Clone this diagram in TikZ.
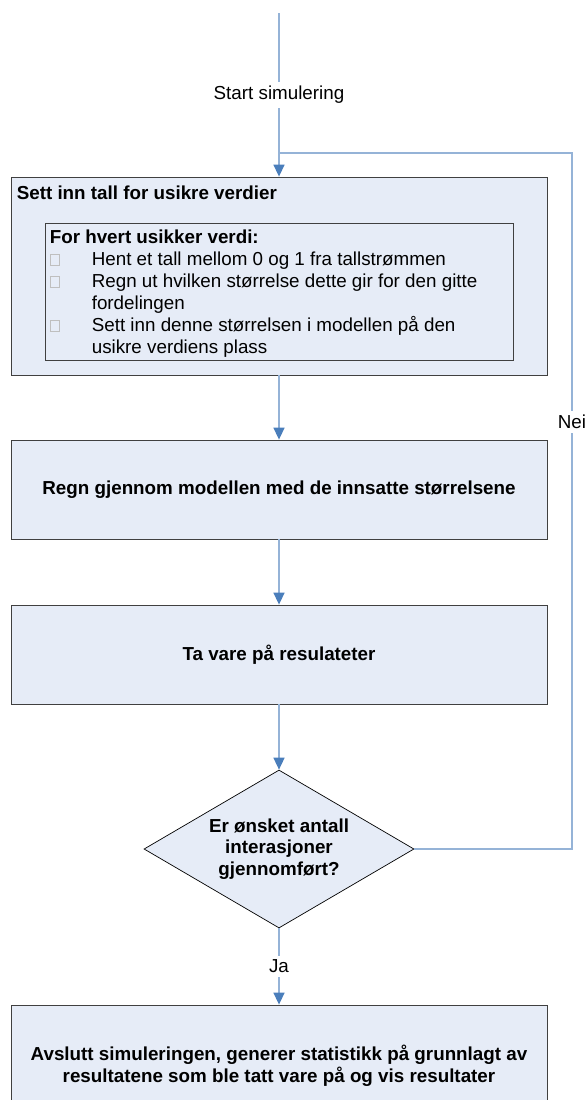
\documentclass[tikz,border=0pt]{standalone}
\usepackage{fontspec}
\setmainfont{Liberation Sans}
\usepackage{xcolor}
\usetikzlibrary{arrows.meta,positioning,shapes.geometric,calc}

\definecolor{boxfill}{RGB}{230,236,247}
\definecolor{flowline}{RGB}{149,179,215}
\definecolor{tipblue}{RGB}{74,126,187}

% empty box where the bullet glyph is missing
\newcommand{\nobullet}{{\color{gray!50}\setlength{\fboxsep}{0pt}\setlength{\fboxrule}{0.6pt}\fbox{\rule{0pt}{10.5pt}\hspace{8.5pt}}}}

\begin{document}
\begin{tikzpicture}[x=1pt,y=-1pt,
    font=\fontsize{18.8}{22}\selectfont,
    stepbox/.style={draw=black!75,line width=0.8pt,fill=boxfill,minimum width=536pt,inner sep=0pt,align=center,font=\fontsize{18.8}{22}\selectfont\bfseries},
    decision/.style={diamond,draw=black,line width=0.7pt,fill=boxfill,minimum width=270pt,minimum height=158pt,inner sep=0pt,aspect=1.7,align=center,font=\fontsize{18.8}{21.5}\selectfont\bfseries},
    flow/.style={draw=flowline,line width=1.5pt,-{Triangle[length=12pt,width=11pt,color=tipblue]}},
    loopline/.style={draw=flowline,line width=1.5pt},
    lbl/.style={fill=white,inner xsep=2pt,inner ysep=4pt}]
    \useasboundingbox (0,0) rectangle (587,1100);

    % Steps
    \coordinate (top) at (279,13);
    \node[stepbox,minimum height=198pt] (insert) at (279,276) {};
    \node[anchor=west,inner sep=0pt,font=\fontsize{18.8}{22}\selectfont\bfseries] (inserttitle)
        at ($(insert.north west)+(6,16)$) {Sett inn tall for usikre verdier};
    \node[draw=black!75,line width=0.8pt,minimum width=468pt,minimum height=137pt] (foreach) at (279,291.5) {};
    \node[anchor=north west,inner sep=0pt,align=left] (foreachtext) at ($(foreach.north west)+(5,7)$)
        {\textbf{For hvert usikker verdi:}\\
         \makebox[42pt][l]{\nobullet}Hent et tall mellom 0 og 1 fra tallstrømmen\\
         \makebox[42pt][l]{\nobullet}Regn ut hvilken størrelse dette gir for den gitte\\
         \hspace*{42pt}fordelingen\\
         \makebox[42pt][l]{\nobullet}Sett inn denne størrelsen i modellen på den\\
         \hspace*{42pt}usikre verdiens plass};
    \node[stepbox,minimum height=99pt] (compute) at (279,489.5) {Regn gjennom modellen med de innsatte størrelsene};
    \node[stepbox,minimum height=99pt] (store) at (279,654.5) {Ta vare på resulateter};
    \node[decision] (done) at (279,849) {Er ønsket antall\\interasjoner\\gjennomført?};
    \node[stepbox,minimum height=122pt] (finish) at (279,1066)
        {Avslutt simuleringen, generer statistikk på grunnlagt av\\resultatene som ble tatt vare på og vis resultater};

    % Connectors
    \coordinate (join) at (279,153);
    \coordinate (loopcorner) at (572,153);
    \draw[loopline] (done.east) -| node[lbl,pos=0.807] (neilabel) {Nei} (loopcorner) -- (join);
    \draw[flow] (top) -- node[lbl] (startlabel) {Start simulering} (insert);
    \draw[flow] (insert) -- (compute);
    \draw[flow] (compute) -- (store);
    \draw[flow] (store) -- (done);
    \draw[flow] (done) -- node[lbl] (jalabel) {Ja} (finish);
\end{tikzpicture}
\end{document}
